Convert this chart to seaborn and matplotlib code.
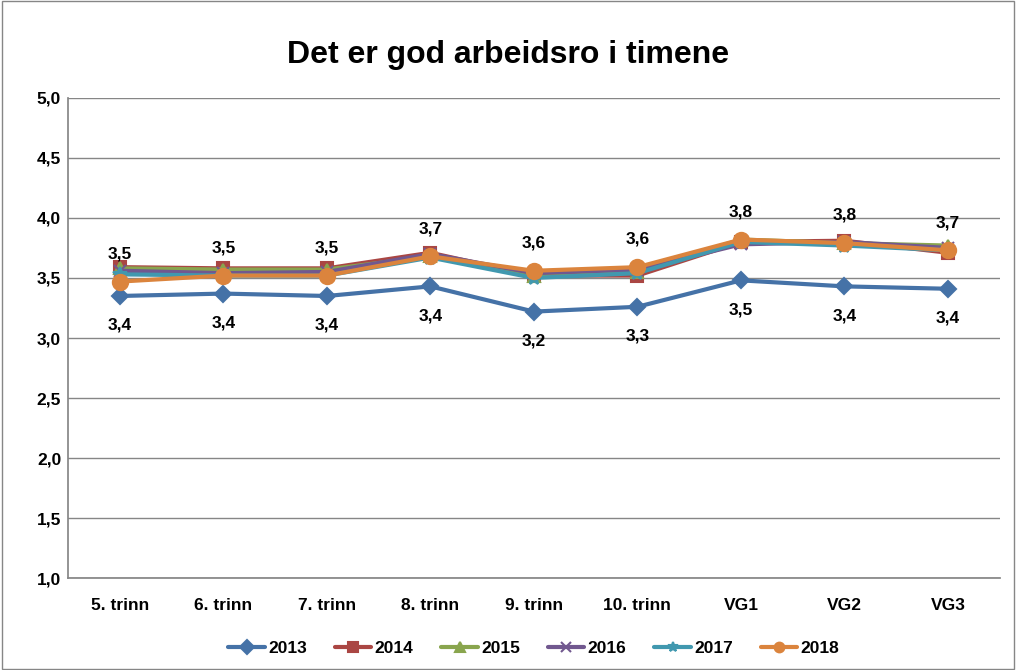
"""
Line chart: Det er god arbeidsro i timene
"""
import pandas as pd
import matplotlib.pyplot as plt
import matplotlib.patches as mpatches
import seaborn as sns

trinn = ['5. trinn', '6. trinn', '7. trinn', '8. trinn', '9. trinn',
         '10. trinn', 'VG1', 'VG2', 'VG3']
years = ['2013', '2014', '2015', '2016', '2017', '2018']

v2013 = [3.35, 3.37, 3.35, 3.43, 3.22, 3.26, 3.48, 3.43, 3.41]
v2014 = [3.59, 3.58, 3.58, 3.71, 3.52, 3.52, 3.80, 3.81, 3.71]
v2015 = [3.58, 3.57, 3.57, 3.68, 3.52, 3.55, 3.82, 3.79, 3.77]
v2016 = [3.56, 3.54, 3.55, 3.70, 3.54, 3.57, 3.78, 3.80, 3.75]
v2017 = [3.53, 3.52, 3.52, 3.67, 3.50, 3.54, 3.80, 3.77, 3.73]
v2018 = [3.47, 3.52, 3.52, 3.68, 3.56, 3.59, 3.82, 3.79, 3.73]

series = dict(zip(years, [v2013, v2014, v2015, v2016, v2017, v2018]))
rows = []
for y, vals in series.items():
    for i, v in enumerate(vals):
        rows.append({'trinn': trinn[i], 'pos': i, 'year': y, 'value': v})
data = pd.DataFrame(rows)

sns.set_theme(style="white")
plt.rcParams['font.family'] = ['Liberation Sans', 'DejaVu Sans']
plt.rcParams['text.color'] = 'black'
plt.rcParams['xtick.color'] = 'black'
plt.rcParams['ytick.color'] = 'black'

colors = ['#4572A7', '#AA4643', '#89A54E', '#71588F', '#4198AF', '#DB843D']
markers = ['D', 's', '^', 'x', '*', 'o']
msizes = [8, 9, 9, 9, 10, 11]

fig = plt.figure(figsize=(10.16, 6.7), dpi=100)
ax = fig.add_axes([0.067, 0.137, 0.917, 0.717])

for i, y in enumerate(years):
    d = data[data['year'] == y]
    sns.lineplot(data=d, x='pos', y='value', ax=ax, color=colors[i],
                 marker=markers[i], markersize=msizes[i], linewidth=3,
                 markeredgecolor=colors[i], markeredgewidth=1.5, label=y)

# value labels: 2013 below, 2018 above
for i, v in enumerate(v2013):
    ax.annotate(f"{v:.1f}".replace('.', ','), (i, v), xytext=(0, -21),
                textcoords='offset points', ha='center', va='center',
                fontsize=12.5, fontweight='bold')
for i, v in enumerate(v2018):
    ax.annotate(f"{v:.1f}".replace('.', ','), (i, v), xytext=(0, 20),
                textcoords='offset points', ha='center', va='center',
                fontsize=12.5, fontweight='bold')

ax.set_xlim(-0.5, 8.5)
ax.set_ylim(1.0, 5.0)
ax.set_yticks([1.0, 1.5, 2.0, 2.5, 3.0, 3.5, 4.0, 4.5, 5.0])
ax.set_yticklabels([f"{t:.1f}".replace('.', ',') for t in ax.get_yticks()],
                   fontsize=12.5, fontweight='bold')
ax.set_xticks(range(len(trinn)))
ax.set_xticklabels(trinn, fontsize=12.5, fontweight='bold')
ax.tick_params(axis='x', pad=14, length=0)
ax.tick_params(axis='y', pad=5, length=0)
ax.set_xlabel('')
ax.set_ylabel('')
ax.yaxis.grid(True, color='#868686', linewidth=1)
ax.xaxis.grid(False)
ax.set_axisbelow(True)
for s in ['top', 'right']:
    ax.spines[s].set_visible(False)
for s in ['left', 'bottom']:
    ax.spines[s].set_color('#868686')

fig.suptitle("Det er god arbeidsro i timene", fontsize=23, fontweight='bold',
             y=0.94)

leg = ax.legend(loc='lower center', bbox_to_anchor=(0.5, -0.195),
                ncol=6, frameon=False, prop={'weight': 'bold', 'size': 12.5},
                handlelength=2.1, columnspacing=1.6, handletextpad=0.2)
for h in leg.legend_handles:
    h.set_markersize(7)

fig.patches.append(mpatches.Rectangle((0.002, 0.002), 0.996, 0.996,
                                      transform=fig.transFigure, fill=False,
                                      edgecolor='#868686', linewidth=1))

plt.savefig('out.png', dpi=100)
